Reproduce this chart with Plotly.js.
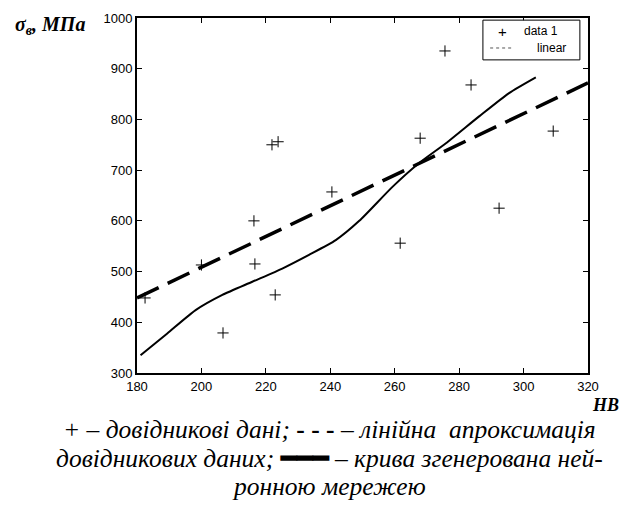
<!DOCTYPE html>
<html>
<head>
<meta charset="utf-8">
<script src="https://cdn.plot.ly/plotly-3.0.1.min.js"></script>
<style>html,body{margin:0;padding:0;background:#fff;}#chart{width:622px;height:509px;}</style>
</head>
<body>
<div id="chart"></div>
<script>
// Reference data (HB, σв MPa)
const dataHB    = [182.5, 200, 206.7, 216.3, 216.6, 222.9, 221.9, 223.8, 240.5, 261.7, 267.9, 275.6, 283.7, 292.4, 309.2];
const dataSigma = [448, 513, 379, 600, 515, 454, 750, 756, 657, 556, 763, 935, 868, 625, 777];

// Linear approximation endpoints
const linHB    = [180, 320];
const linSigma = [448, 872];

// Neural network curve
const nnHB    = [181.1, 189.4, 198.2, 206.5, 215.8, 225.1, 233.4, 241.7, 249, 259.3, 267.6, 275.9, 286.2, 295.5, 303.8];
const nnSigma = [335, 378, 424, 454, 480, 506, 533, 562, 600, 667, 714, 753, 806, 852, 883];

const xTicks = [180, 200, 220, 240, 260, 280, 300, 320];
const yTicks = [300, 400, 500, 600, 700, 800, 900, 1000];

const legendLabels = ['data 1', 'linear'];

const traces = [
  {x: linHB, y: linSigma, mode: 'lines',
   line: {color: '#000', width: 3.5, dash: '24px,10px'}, hoverinfo: 'skip'},
  {x: nnHB, y: nnSigma, mode: 'lines',
   line: {color: '#000', width: 2, shape: 'spline', smoothing: 0.6}, hoverinfo: 'skip'},
  {x: dataHB, y: dataSigma, mode: 'markers', name: legendLabels[0],
   marker: {symbol: 'cross-thin-open', size: 8, color: '#000', line: {color: '#000', width: 1}}}
];

const axisCommon = {
  showgrid: false, zeroline: false, showline: true, linecolor: '#000', linewidth: 2,
  mirror: 'ticks', ticks: 'inside', ticklen: 5, tickwidth: 1.2, tickcolor: '#000',
  tickfont: {family: 'Liberation Sans, Arial, sans-serif', size: 13, color: '#000'}
};

const serif = 'Liberation Serif, Times New Roman, serif';
const sans = 'Liberation Sans, Arial, sans-serif';

const layout = {
  width: 622, height: 509,
  margin: {l: 137, r: 34, t: 18, b: 136},
  paper_bgcolor: '#fff', plot_bgcolor: '#fff',
  xaxis: Object.assign({}, axisCommon, {range: [180, 320], tickvals: xTicks, ticklabelstandoff: 0}),
  yaxis: Object.assign({}, axisCommon, {range: [300, 1000], tickvals: yTicks, ticklabelstandoff: 0}),
  showlegend: false,
  shapes: [
    // legend box
    {type: 'rect', xref: 'paper', yref: 'paper', x0: 0.767, x1: 0.982, y0: 0.882, y1: 0.994,
     line: {color: '#000', width: 1}, fillcolor: '#fff', layer: 'above'},
    // legend line sample for "linear"
    {type: 'line', xref: 'paper', yref: 'paper', x0: 0.783, x1: 0.834, y0: 0.9155, y1: 0.9155,
     line: {color: '#555', width: 1, dash: 'dot'}, layer: 'above'}
  ],
  annotations: [
    {xref: 'paper', yref: 'paper', x: 0.8115, y: 0.963, xanchor: 'center', yanchor: 'middle',
     text: '+', showarrow: false, font: {family: sans, size: 15, color: '#000'}},
    {xref: 'paper', yref: 'paper', x: 0.8537, y: 0.963, xanchor: 'left', yanchor: 'middle',
     text: legendLabels[0], showarrow: false, font: {family: sans, size: 12, color: '#000'}},
    {xref: 'paper', yref: 'paper', x: 0.8825, y: 0.9155, xanchor: 'left', yanchor: 'middle',
     text: legendLabels[1], showarrow: false, font: {family: sans, size: 12, color: '#000'}},
    {xref: 'paper', yref: 'paper', x: -0.275, y: 0.98, xanchor: 'left', yanchor: 'middle',
     text: '<b><i>σ<sub>в</sub>, МПа</i></b>', showarrow: false,
     font: {family: serif, size: 20, color: '#000'}},
    {xref: 'paper', yref: 'paper', x: 1.073, y: -0.09, xanchor: 'right', yanchor: 'middle',
     text: '<b><i>HB</i></b>', showarrow: false,
     font: {family: serif, size: 18, color: '#000'}},
    {xref: 'paper', yref: 'paper', x: 0.426, y: -0.16, xanchor: 'center', yanchor: 'middle',
     text: '<i>+ – довідникові дані; </i><b>- - -</b><i> – лінійна  апроксимація</i>', showarrow: false,
     font: {family: serif, size: 25.5, color: '#000'}},
    {xref: 'paper', yref: 'paper', x: 0.426, y: -0.242, xanchor: 'center', yanchor: 'middle',
     text: '<i>довідникових даних; </i><b>━━━</b><i> – крива згенерована ней-</i>', showarrow: false,
     font: {family: serif, size: 25.5, color: '#000'}},
    {xref: 'paper', yref: 'paper', x: 0.426, y: -0.321, xanchor: 'center', yanchor: 'middle',
     text: '<i>ронною мережею</i>', showarrow: false,
     font: {family: serif, size: 25.5, color: '#000'}}
  ]
};

Plotly.newPlot('chart', traces, layout, {displayModeBar: false, staticPlot: true});
</script>
</body>
</html>
